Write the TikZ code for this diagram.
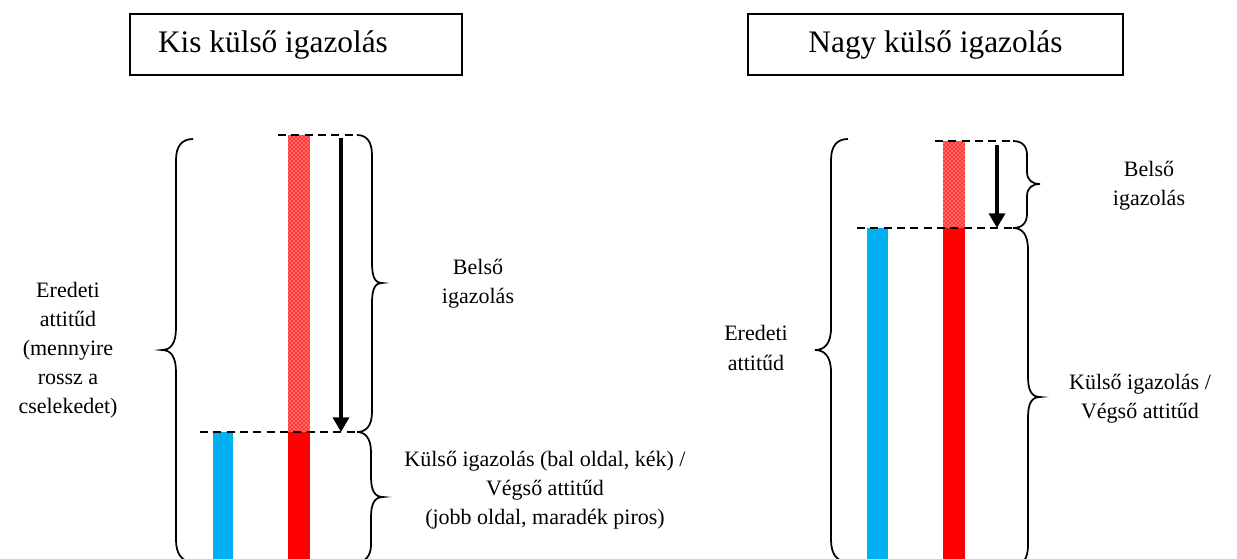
\documentclass[tikz,border=0pt]{standalone}
\usepackage{fontspec}
\setmainfont{Liberation Serif}
\usetikzlibrary{arrows.meta,patterns}
\definecolor{kek}{RGB}{0,176,240}
\definecolor{piros}{RGB}{255,0,0}
\tikzset{
    cim/.style={draw,line width=1.2pt,minimum height=45.75pt,inner sep=0pt,
        font=\fontsize{23.5}{28}\selectfont},
    felirat/.style={align=center,inner sep=0pt,
        font=\fontsize{16.5}{21.8}\selectfont},
    kapocs/.style={line width=1.3pt},
    szaggatott/.style={line width=1.3pt,dash pattern=on 6pt off 4pt},
    nyil/.style={line width=2.6pt,-{Triangle[length=11pt,width=12pt]}},
    belso/.style={fill=piros!78,postaction={pattern=crosshatch dots,pattern color=white}}
}
\begin{document}
\begin{tikzpicture}[x=0.75pt,y=-0.75pt]
    \useasboundingbox (0,0) rectangle (1237,559);

    % kis kulso igazolas
    \node[cim,minimum width=249pt] (kis) at (296,44.5) {Kis külső igazolás\kern34.5pt};
    \fill[belso] (288,135) rectangle (310,432);
    \fill[piros] (288,432) rectangle (310,559);
    \fill[kek] (213,432) rectangle (233,559);
    \draw[szaggatott] (278,135) -- (357,135);
    \draw[szaggatott] (200,432) -- (357,432);
    \coordinate (kisfent) at (341,138);
    \coordinate (kislent) at (341,432);
    \draw[nyil] (kisfent) -- (kislent);
    \draw[kapocs] (193,139) .. controls (182,139) and (176,146) .. (176,160) -- (176,328)
        .. controls (176,343) and (171,350) .. (162,350) .. controls (171,350) and (176,357) .. (176,372)
        -- (176,540) .. controls (176,554) and (182,562) .. (193,562);
    \draw[kapocs] (357,135) .. controls (366,135) and (372,141) .. (372,155) -- (372,263)
        .. controls (372,277) and (375,283) .. (382,283) .. controls (375,283) and (372,289) .. (372,303)
        -- (372,412) .. controls (372,426) and (366,432) .. (357,432);
    \draw[kapocs] (357,432) .. controls (365,432) and (371,438) .. (371,452) -- (371,477)
        .. controls (371,491) and (375,497) .. (383,497) .. controls (375,497) and (371,503) .. (371,517)
        -- (371,545) .. controls (371,556) and (365,562) .. (357,562);
    \node[felirat] (kiseredeti) at (68,350) {Eredeti\\attitűd\\(mennyire\\rossz a\\cselekedet)};
    \node[felirat] (kisbelso) at (478,284) {Belső\\igazolás};
    \node[felirat] (kiskulso) at (545,490) {Külső igazolás (bal oldal, kék) /\\Végső attitűd\\(jobb oldal, maradék piros)};

    % nagy kulso igazolas
    \node[cim,minimum width=281.25pt] (nagy) at (935.5,44.5) {Nagy külső igazolás};
    \fill[belso] (943,141) rectangle (965,228);
    \fill[piros] (943,228) rectangle (965,559);
    \fill[kek] (867,228) rectangle (888,559);
    \draw[szaggatott] (935,141) -- (1013,141);
    \draw[szaggatott] (857,228) -- (1013,228);
    \coordinate (nagyfent) at (997,145);
    \coordinate (nagylent) at (997,228);
    \draw[nyil] (nagyfent) -- (nagylent);
    \draw[kapocs] (848,139) .. controls (837,139) and (831,146) .. (831,160) -- (831,328)
        .. controls (831,343) and (825,350) .. (815,350) .. controls (825,350) and (831,357) .. (831,372)
        -- (831,540) .. controls (831,554) and (837,562) .. (848,562);
    \draw[kapocs] (1013,141) .. controls (1022,141) and (1027,146) .. (1027,155) -- (1027,172)
        .. controls (1027,180) and (1032,184) .. (1040,184) .. controls (1032,184) and (1027,188) .. (1027,196)
        -- (1027,214) .. controls (1027,223) and (1022,228) .. (1013,228);
    \draw[kapocs] (1013,228) .. controls (1022,228) and (1028,234) .. (1028,250) -- (1028,377)
        .. controls (1028,391) and (1032,397) .. (1040,397) .. controls (1032,397) and (1028,403) .. (1028,417)
        -- (1028,545) .. controls (1028,560) and (1022,566) .. (1013,566);
    \node[felirat] (nagyeredeti) at (756,348) {Eredeti\\attitűd};
    \node[felirat] (nagybelso) at (1149,186) {Belső\\igazolás};
    \node[felirat] (nagykulso) at (1140,399) {Külső igazolás /\\Végső attitűd};
\end{tikzpicture}
\end{document}
